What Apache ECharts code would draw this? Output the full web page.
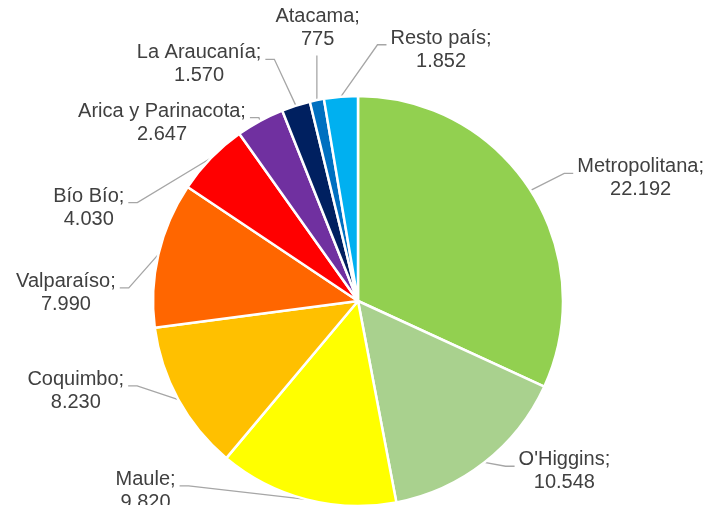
<!DOCTYPE html>
<html>
<head>
<meta charset="utf-8">
<script src="https://cdn.jsdelivr.net/npm/echarts@6/dist/echarts.min.js"></script>
<style>html,body{margin:0;padding:0;background:#fff}#c{width:705px;height:505px}</style>
</head>
<body>
<div id="c"></div>
<script>
const categories = ["Metropolitana", "O'Higgins", "Maule", "Coquimbo", "Valparaíso", "Bío Bío", "Arica y Parinacota", "La Araucanía", "Atacama", "Resto país"];
const values = [22192, 10548, 9820, 8230, 7990, 4030, 2647, 1570, 775, 1852];
const colors = ["#92D050", "#A9D18E", "#FFFF00", "#FFC000", "#FF6600", "#FF0000", "#7030A0", "#002060", "#0070C0", "#00B0F0"];
// label offsets from the default outside position (styling only)
const labelShift = [[21,-4],[12,-3],[-114,-23],[-28,-16],[-15,42],[-63,60],[6,15],[-17,-27],[59,-57],[165,-32]];

function fmt(v){ return String(v).replace(/\B(?=(\d{3})+(?!\d))/g, '.'); }

const FONT = 'Liberation Sans, Arial, sans-serif';
const GAP = 4, SEG = 9, ANCHOR_Y = 18;

function layout(p) {
  const s = labelShift[p.dataIndex];
  const r = p.labelRect;
  const x0 = r.x + s[0], y0 = r.y + s[1], x1 = x0 + r.width, y1 = y0 + r.height;
  const e = p.labelLinePoints ? p.labelLinePoints[0] : null;
  const out = { dx: s[0], dy: s[1] };
  if (e) {
    let pts;
    if (e[0] >= x0 && e[0] <= x1) {
      const ay = e[1] < y0 ? y0 - GAP : y1 + GAP;
      pts = [[e[0], e[1]], [e[0], ay], [e[0], ay]];
    } else if (e[0] < x0) {
      const ay = y0 + ANCHOR_Y;
      pts = [[e[0], e[1]], [x0 - GAP - SEG, ay], [x0 - GAP, ay]];
    } else {
      const ay = y0 + ANCHOR_Y;
      pts = [[e[0], e[1]], [x1 + GAP + SEG, ay], [x1 + GAP, ay]];
    }
    out.labelLinePoints = pts;
  }
  return out;
}

const chart = echarts.init(document.getElementById('c'), null, {renderer:'canvas'});
chart.setOption({
  animation: false,
  series: [{
    type: 'pie',
    center: [358, 301],
    radius: [0, 205],
    startAngle: 90,
    clockwise: true,
    avoidLabelOverlap: false,
    itemStyle: { borderColor: '#fff', borderWidth: 2.5 },
    label: {
      show: true,
      position: 'outside',
      formatter: p => '{a|' + p.name + ';}\n{a|' + fmt(p.value) + '}',
      color: '#404040',
      fontFamily: FONT,
      fontSize: 20,
      lineHeight: 23,
      distanceToLabelLine: 3,
      rich: { a: { align: 'center', color: '#404040', fontFamily: FONT, fontSize: 20, lineHeight: 23 } }
    },
    labelLine: { show: true, length: 15, length2: 10, lineStyle: { color: '#A6A6A6', width: 1.3 } },
    labelLayout: layout,
    data: categories.map((n, i) => ({ name: n, value: values[i], itemStyle: { color: colors[i] } }))
  }]
});
</script>
</body>
</html>
